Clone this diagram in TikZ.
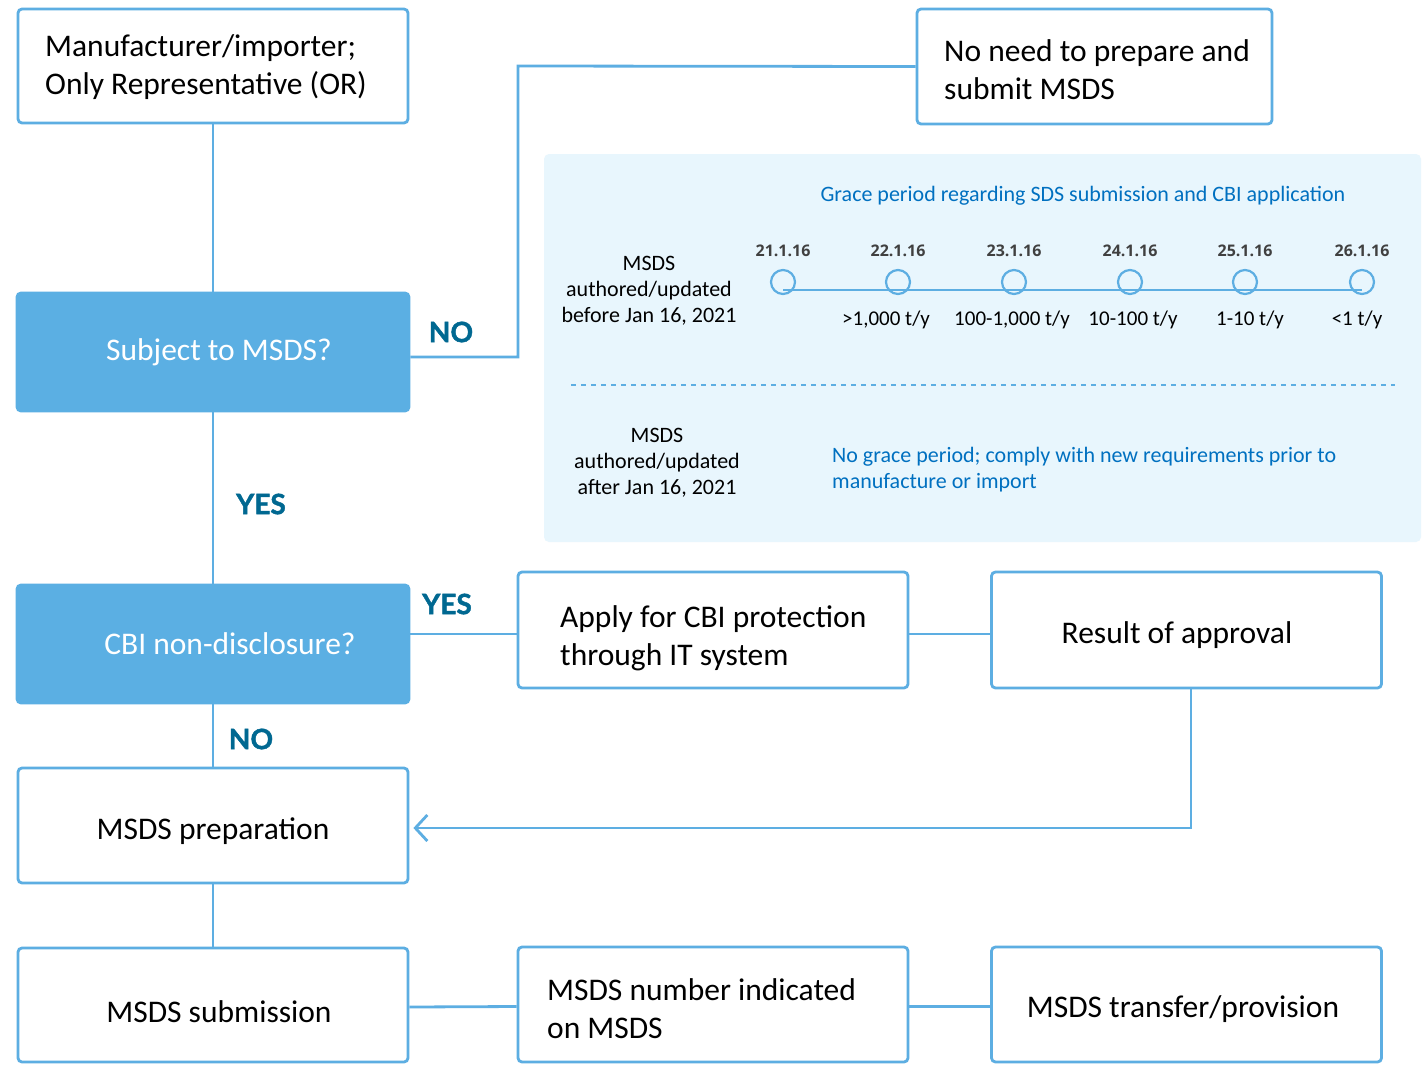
\documentclass[tikz,border=0pt]{standalone}
\usepackage{fontspec}
\setmainfont{Carlito}
\newfontfamily\lblfont{Lato}[BoldFeatures={FakeBold=1.5}]
\newfontfamily\datefont{Open Sans}
\usetikzlibrary{arrows.meta}
\definecolor{bordc}{RGB}{93,174,226}
\definecolor{fillc}{RGB}{91,175,227}
\definecolor{lblc}{RGB}{0,104,145}
\definecolor{panelc}{RGB}{232,246,253}
\definecolor{txtblue}{RGB}{0,112,192}
\definecolor{datec}{RGB}{64,64,64}
\tikzset{
  box/.style={draw=bordc, line width=2.8pt, rounded corners=4pt, fill=white,
    minimum width=390pt, minimum height=114pt, inner sep=0pt},
  qbox/.style={box, draw=fillc, fill=fillc, minimum width=392pt, minimum height=118pt},
  btext/.style={font=\fontsize{31.5}{38}\selectfont, text=black, inner sep=0pt, align=left},
  wtext/.style={btext, text=white},
  conn/.style={draw=bordc, line width=2.8pt},
  lbl/.style={font=\lblfont\bfseries\fontsize{28}{30}\selectfont, text=lblc, inner sep=0pt},
  ptxt/.style={font=\fontsize{22}{26}\selectfont, align=center, inner sep=0pt},
  bluetxt/.style={font=\fontsize{22}{26}\selectfont, text=txtblue, align=left, inner sep=0pt},
  dtxt/.style={font=\datefont\bfseries\fontsize{16}{18}\selectfont, text=datec, inner sep=0pt},
  ttxt/.style={font=\fontsize{21}{24}\selectfont, inner sep=0pt},
  tcirc/.style={circle, draw=bordc, line width=2.2pt, minimum size=24pt, inner sep=0pt},
}
\begin{document}
\begin{tikzpicture}[x=1pt,y=-1pt]
\useasboundingbox[fill=white] (0,0) rectangle (1427,1069);

% panel
\fill[panelc, rounded corners=5pt] (544,154) rectangle (1421,542);
\node[bluetxt] (ptitle) at (1083,196) {Grace period regarding SDS submission and CBI application};
\node[ptxt] (before) at (649,291) {MSDS\\authored/updated\\before Jan 16, 2021};
\node[ptxt] (after) at (657,463) {MSDS\\authored/updated\\after Jan 16, 2021};
\node[bluetxt, anchor=west] (nograce) at (832,470) {No grace period; comply with new requirements prior to\\manufacture or import};
\draw[bordc, line width=1.5pt, dash pattern=on 5pt off 5pt] (571,385) -- (1395,385);

% timeline
\foreach \x/\d [count=\i] in {783/21.1.16, 898/22.1.16, 1014/23.1.16, 1130/24.1.16, 1245/25.1.16, 1362/26.1.16}{
  \node[dtxt] (d\i) at (\x,251) {\d};
  \node[tcirc] (c\i) at (\x,282) {};
  \coordinate (l\i) at (\x,290);
}
\draw[bordc, line width=2pt] (l1) -- (l6);
\node[ttxt] (t2) at (886,320) {>1,000 t/y};
\node[ttxt] (t3) at (1012,320) {100-1,000 t/y};
\node[ttxt] (t4) at (1133,320) {10-100 t/y};
\node[ttxt] (t5) at (1250,320) {1-10 t/y};
\node[ttxt] (t6) at (1357,320) {<1 t/y};

% boxes
\node[box] (manu) at (213,66) {};
\node[btext, anchor=west] (manuT) at (45,67) {Manufacturer/importer;\\Only Representative (OR)};
\node[box, minimum width=355pt, minimum height=115pt] (noneed) at (1094.5,66.5) {};
\node[btext, anchor=west] (noneedT) at (944,70) {No need to prepare and\\submit MSDS};
\node[qbox] (subj) at (213,352) {};
\node[wtext] (subjT) at (219,352) {Subject to MSDS?};
\node[qbox] (cbi) at (213,644) {};
\node[wtext] (cbiT) at (230,644) {CBI non-disclosure?};
\node[box, minimum height=116pt] (apply) at (713,630) {};
\node[btext, anchor=west] (applyT) at (560,638) {Apply for CBI protection\\through IT system};
\node[box, minimum height=116pt] (result) at (1186.5,630) {};
\node[btext] (resultT) at (1177,635) {Result of approval};
\node[box, minimum height=115pt] (prep) at (213,825.5) {};
\node[btext] (prepT) at (213,831) {MSDS preparation};
\node[box] (sub) at (213,1005) {};
\node[btext] (subT) at (219,1012) {MSDS submission};
\node[box, minimum height=115pt] (num) at (713,1004.5) {};
\node[btext, anchor=west] (numT) at (547,1009) {MSDS number indicated\\on MSDS};
\node[box, minimum height=115pt] (trans) at (1186.5,1004.5) {};
\node[btext] (transT) at (1183,1009) {MSDS transfer/provision};

% connectors
\draw[conn] (manu.south) -- (subj.north);
\draw[conn] ([yshift=-5pt]subj.east) -| (518,66) -- (noneed.west);
\draw[conn] (subj.south) -- (cbi.north);
\draw[conn] ([yshift=10pt]cbi.east) -- ([yshift=-4pt]apply.west);
\draw[conn] ([yshift=-4pt]apply.east) -- ([yshift=-4pt]result.west);
\draw[conn] (cbi.south) -- (prep.north);
\draw[conn, -{Straight Barb[length=12pt, width=26pt, line width=2.8pt]}, shorten >=4pt] ([xshift=4.5pt]result.south) |- ([yshift=-2.5pt]prep.east);
\draw[conn] (prep.south) -- (sub.north);
\draw[conn] ([yshift=-2pt]sub.east) -- ([yshift=-2pt]num.west);
\draw[conn] ([yshift=-2pt]num.east) -- ([yshift=-2pt]trans.west);

% labels
\node[lbl] (no1) at (451,332) {NO};
\node[lbl] (yes1) at (261,504) {YES};
\node[lbl] (yes2) at (447,604) {YES};
\node[lbl] (no2) at (251,739) {NO};
\end{tikzpicture}
\end{document}
